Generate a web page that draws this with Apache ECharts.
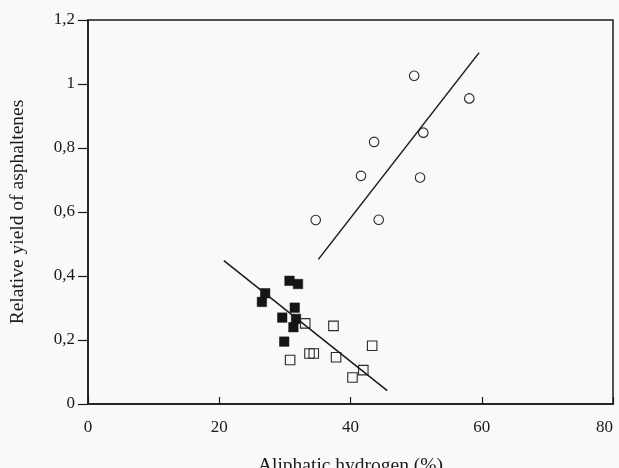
<!DOCTYPE html>
<html>
<head>
<meta charset="utf-8">
<script src="https://cdn.jsdelivr.net/npm/echarts@6/dist/echarts.min.js"></script>
<style>
html,body{margin:0;padding:0;background:#f9f9f7;}
#chart{width:619px;height:468px;}
</style>
</head>
<body>
<div id="chart"></div>
<script>
// Open circles (upper group)
const circleX = [49.7, 58.1, 51.1, 43.6, 41.6, 50.6, 34.7, 44.3];
const circleY = [1.026, 0.955, 0.848, 0.819, 0.713, 0.708, 0.575, 0.576];
// Filled squares
const filledX = [30.7, 32.0, 27.0, 26.5, 31.5, 29.6, 31.7, 31.3, 29.9];
const filledY = [0.385, 0.375, 0.346, 0.319, 0.301, 0.270, 0.266, 0.240, 0.195];
// Open squares
const openSqX = [33.1, 37.4, 43.3, 33.75, 34.4, 30.8, 37.8, 41.95, 40.3];
const openSqY = [0.252, 0.244, 0.182, 0.158, 0.158, 0.1375, 0.146, 0.106, 0.083];
// Fitted lines (end points)
const upperLineX = [35.1, 59.6];
const upperLineY = [0.452, 1.098];
const lowerLineX = [20.7, 45.6];
const lowerLineY = [0.448, 0.042];
// Axes
const xTicks = [0, 20, 40, 60, 80];
const yTicks = [0, 0.2, 0.4, 0.6, 0.8, 1, 1.2];
const xTitle = 'Aliphatic hydrogen (%)';
const yTitle = 'Relative yield of asphaltenes';

const zip = (a, b) => a.map((v, i) => [v, b[i]]);
const font = 'Liberation Serif, Times New Roman, serif';

const chart = echarts.init(document.getElementById('chart'), null, {renderer: 'canvas'});
chart.setOption({
  backgroundColor: '#f9f9f7',
  animation: false,
  grid: {left: 88, right: 6, top: 20, bottom: 64, outerBoundsMode: 'none', containLabel: false,
         show: true, borderColor: '#1a1a1a', borderWidth: 1.5, backgroundColor: 'transparent'},
  xAxis: {
    type: 'value', min: xTicks[0], max: xTicks[xTicks.length - 1], interval: 20,
    name: xTitle, nameLocation: 'middle', nameGap: 52,
    nameTextStyle: {fontFamily: font, fontSize: 19.5, color: '#1a1a1a'},
    axisLine: {show: true, onZero: false, lineStyle: {color: '#1a1a1a', width: 1.5}},
    axisTick: {show: true, inside: true, length: 7, lineStyle: {color: '#1a1a1a', width: 1.2}},
    axisLabel: {fontFamily: font, fontSize: 17, color: '#1a1a1a', margin: 15, alignMaxLabel: 'right'},
    splitLine: {show: false}
  },
  yAxis: {
    type: 'value', min: yTicks[0], max: yTicks[yTicks.length - 1], interval: 0.2,
    name: yTitle, nameLocation: 'middle', nameGap: 60, nameRotate: 90,
    nameTextStyle: {fontFamily: font, fontSize: 19.5, color: '#1a1a1a'},
    axisLine: {show: true, onZero: false, lineStyle: {color: '#1a1a1a', width: 1.5}},
    axisTick: {show: true, inside: false, length: 10, lineStyle: {color: '#1a1a1a', width: 1.2}},
    axisLabel: {fontFamily: font, fontSize: 17, color: '#1a1a1a', margin: 13,
      formatter: v => String(Math.round(v * 10) / 10).replace('.', ',')},
    splitLine: {show: false}
  },
  series: [
    {type: 'scatter', data: zip(circleX, circleY), symbol: 'circle', symbolSize: 9.5,
     itemStyle: {color: 'transparent', borderColor: '#2a2a2a', borderWidth: 1.1, opacity: 1}},
    {type: 'scatter', data: zip(filledX, filledY), symbol: 'rect', symbolSize: 9.5,
     itemStyle: {color: '#151515', borderColor: '#151515', borderWidth: 0.5, opacity: 1}},
    {type: 'scatter', data: zip(openSqX, openSqY), symbol: 'rect', symbolSize: 9.5,
     itemStyle: {color: 'transparent', borderColor: '#2a2a2a', borderWidth: 1.1, opacity: 1}},
    {type: 'line', data: zip(upperLineX, upperLineY), symbol: 'none',
     lineStyle: {color: '#1a1a1a', width: 1.5}},
    {type: 'line', data: zip(lowerLineX, lowerLineY), symbol: 'none',
     lineStyle: {color: '#1a1a1a', width: 1.5}}
  ]
});
</script>
</body>
</html>
